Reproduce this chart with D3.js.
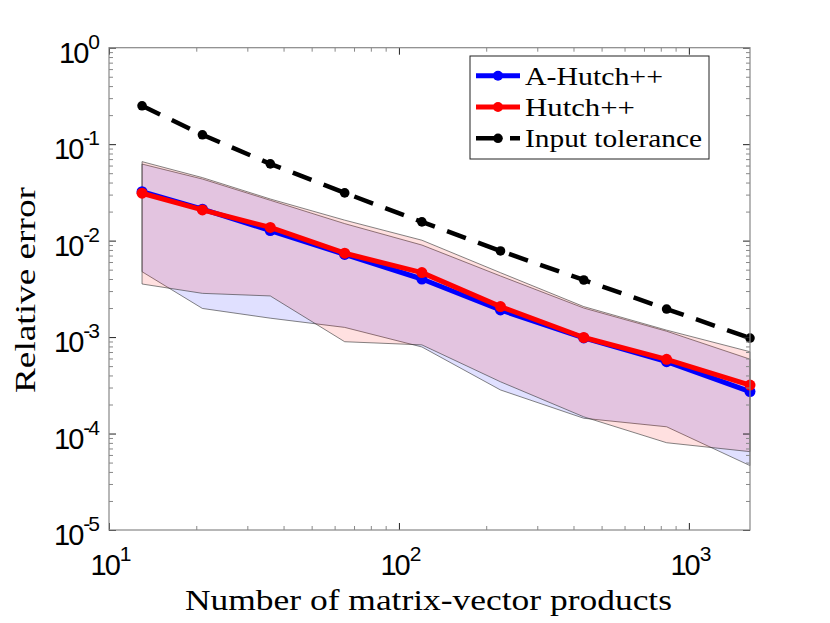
<!DOCTYPE html>
<html>
<head>
<meta charset="utf-8">
<script src="https://cdn.jsdelivr.net/npm/d3@7"></script>
<style>
  body { margin: 0; background: #fff; }
  svg { display: block; }
</style>
</head>
<body>
<div class="grafico"></div>
<script>
// datos
const nmv = [13, 21, 36, 65, 120, 224, 434, 838, 1625];
const tolerance = [0.25, 0.125, 0.0625, 0.03125, 0.015625, 0.0078125, 0.00390625, 0.001953125, 0.0009765625];
const aHutch = [0.0322, 0.0212, 0.0127, 0.0072, 0.0040, 0.00191, 0.00098, 0.000556, 0.000272];
const hutch = [0.0310, 0.0208, 0.0137, 0.0074, 0.00466, 0.00207, 0.00099, 0.000588, 0.000318];
const aHutchHi = [0.0622, 0.0435, 0.0262, 0.0150, 0.0090, 0.0043, 0.0020, 0.00115, 0.00059];
const aHutchLo = [0.00476, 0.00198, 0.00157, 0.00126, 0.00079, 0.000283, 0.000144, 0.0001175, 0.0000465];
const hutchHi = [0.0659, 0.0450, 0.0270, 0.0163, 0.0101, 0.00465, 0.00207, 0.00118, 0.000705];
const hutchLo = [0.00355, 0.00284, 0.00267, 0.000895, 0.00083, 0.000344, 0.000149, 0.0000803, 0.0000649];
const xTicks = [10, 100, 1000];
const yTicks = [1e-5, 1e-4, 1e-3, 1e-2, 1e-1, 1];
const legendNames = ["A-Hutch++", "Hutch++", "Input tolerance"];

var W = 830, H = 623,
  margin = { top: 47.7, right: 80, bottom: 93, left: 109 };
var width = W - margin.left - margin.right,
  height = H - margin.top - margin.bottom;
// ancho de los textos en serif (la fuente LaTeX es mas ancha)
var legWidths = [138, 110, 177];

var svg = d3.select(".grafico").append("svg")
  .attr("width", W).attr("height", H);

var x = d3.scaleLog().domain([10, d3.max(nmv)]).range([0, width]),
  y = d3.scaleLog().domain([1e-5, 1]).range([height, 0]);

var g = svg.append("g")
  .attr("transform", "translate(" + margin.left + "," + margin.top + ")");

// bandas sombreadas
function band(hi, lo) {
  var pts = nmv.map((d, i) => [x(d), y(hi[i])]);
  for (var i = nmv.length - 1; i >= 0; i--) pts.push([x(nmv[i]), y(lo[i])]);
  return "M" + pts.join("L") + "Z";
}
g.append("path").attr("d", band(aHutchHi, aHutchLo))
  .attr("fill", "rgb(0,0,255)").attr("fill-opacity", 0.12)
  .attr("stroke", "#333").attr("stroke-width", 0.6);
g.append("path").attr("d", band(hutchHi, hutchLo))
  .attr("fill", "rgb(255,0,0)").attr("fill-opacity", 0.12)
  .attr("stroke", "#333").attr("stroke-width", 0.6);

var line = d3.line().x(d => x(d[0])).y(d => y(d[1]));

// tolerancia (discontinua)
g.append("path").datum(nmv.map((d, i) => [d, tolerance[i]]))
  .attr("d", line).attr("fill", "none")
  .attr("stroke", "#000").attr("stroke-width", 4.5)
  .attr("stroke-dasharray", "20,13");
g.selectAll(".dotTol").data(nmv).enter().append("circle")
  .attr("cx", d => x(d)).attr("cy", (d, i) => y(tolerance[i]))
  .attr("r", 4.8).attr("fill", "#000");

// series
[[aHutch, "#0000ff"], [hutch, "#ff0000"]].forEach(s => {
  g.append("path").datum(nmv.map((d, i) => [d, s[0][i]]))
    .attr("d", line).attr("fill", "none")
    .attr("stroke", s[1]).attr("stroke-width", 5)
    .attr("stroke-linejoin", "round");
  g.selectAll(null).data(nmv).enter().append("circle")
    .attr("cx", d => x(d)).attr("cy", (d, i) => y(s[0][i]))
    .attr("r", 5.5).attr("fill", s[1]);
});

// ejes con marcas menores
var minorX = [], minorY = [];
for (var e = 1; e <= 3; e++) for (var k = 1; k <= 9; k++) {
  var v = k * Math.pow(10, e);
  if (k > 1 && v <= d3.max(nmv)) minorX.push(v);
}
for (var e = -5; e < 0; e++) for (var k = 2; k <= 9; k++) minorY.push(k * Math.pow(10, e));

function ax(gen, vals, size, t, color) {
  var a = g.append("g").attr("transform", t)
    .call(gen.tickValues(vals).tickSize(size).tickFormat(""));
  a.select(".domain").remove();
  a.selectAll("line").attr("stroke", color).attr("stroke-width", 1);
  return a;
}
ax(d3.axisBottom(x), minorX, -4, "translate(0," + height + ")", "#888");
ax(d3.axisTop(x), minorX, -4, "translate(0,0)", "#888");
ax(d3.axisLeft(y), minorY, -4, "translate(0,0)", "#888");
ax(d3.axisRight(y), minorY, -4, "translate(" + width + ",0)", "#888");
ax(d3.axisBottom(x), xTicks, -7, "translate(0," + height + ")", "#222");
ax(d3.axisTop(x), xTicks, -7, "translate(0,0)", "#222");
ax(d3.axisLeft(y), yTicks, -7, "translate(0,0)", "#222");
ax(d3.axisRight(y), yTicks, -7, "translate(" + width + ",0)", "#222");

g.append("rect").attr("width", width).attr("height", height)
  .attr("fill", "none").attr("stroke", "#888").attr("stroke-width", 1.2);

// etiquetas 10^n
function pow10(sel, d) {
  var ex = Math.round(Math.log10(d));
  sel.append("tspan").text("10");
  sel.append("tspan").attr("dy", -14).attr("dx", 1).attr("font-size", 21).text(ex);
}
g.selectAll(".xlab").data(xTicks).enter().append("text")
  .attr("x", d => x(d) + 1).attr("y", height + 45)
  .attr("text-anchor", "middle")
  .attr("font-family", "Liberation Sans, Arial, sans-serif")
  .attr("font-size", 29).attr("letter-spacing", -2)
  .each(function(d) { pow10(d3.select(this), d); });
g.selectAll(".ylab").data(yTicks).enter().append("text")
  .attr("x", -11).attr("y", d => y(d) + 15)
  .attr("text-anchor", "end")
  .attr("font-family", "Liberation Sans, Arial, sans-serif")
  .attr("font-size", 29).attr("letter-spacing", -2)
  .each(function(d) { pow10(d3.select(this), d); });

// titulos
svg.append("text")
  .attr("x", margin.left + width / 2 - 1).attr("y", 610)
  .attr("text-anchor", "middle")
  .attr("font-family", "Liberation Serif, serif").attr("font-size", 30)
  .attr("textLength", 487).attr("lengthAdjust", "spacingAndGlyphs")
  .text("Number of matrix-vector products");
svg.append("text")
  .attr("transform", "translate(35,290) rotate(-90)")
  .attr("text-anchor", "middle")
  .attr("font-family", "Liberation Serif, serif").attr("font-size", 30)
  .attr("textLength", 206).attr("lengthAdjust", "spacingAndGlyphs")
  .text("Relative error");

// leyenda
var lg = svg.append("g").attr("transform", "translate(470,56)");
lg.append("rect").attr("width", 239).attr("height", 103)
  .attr("fill", "#fff").attr("stroke", "#222").attr("stroke-width", 1);
var legColors = ["#0000ff", "#ff0000", "#000"];
legendNames.forEach((n, i) => {
  var yy = 19.7 + i * 31.3;
  lg.append("line").attr("x1", 6).attr("x2", 50).attr("y1", yy).attr("y2", yy)
    .attr("stroke", legColors[i]).attr("stroke-width", i == 2 ? 4.5 : 5)
    .attr("stroke-dasharray", i == 2 ? "22,12" : null);
  lg.append("circle").attr("cx", 28).attr("cy", yy).attr("r", i == 2 ? 4.8 : 5)
    .attr("fill", legColors[i]);
  lg.append("text").attr("x", 55).attr("y", yy + 9)
    .attr("font-family", "Liberation Serif, serif").attr("font-size", 26)
    .attr("textLength", legWidths[i]).attr("lengthAdjust", "spacingAndGlyphs")
    .text(n);
});
</script>
</body>
</html>
